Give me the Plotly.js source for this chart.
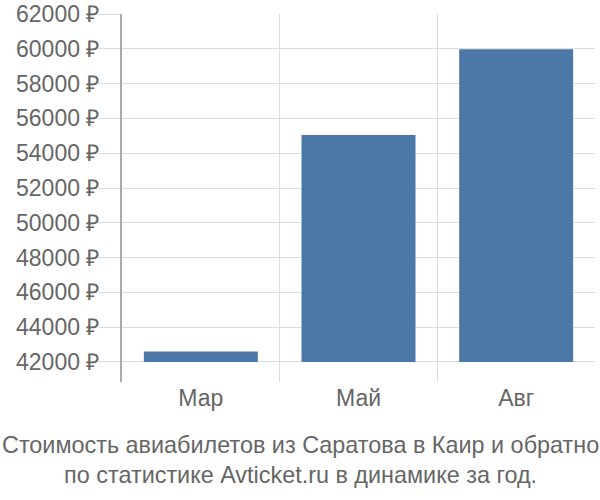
<!DOCTYPE html>
<html>
<head>
<meta charset="utf-8">
<script src="https://cdn.plot.ly/plotly-3.0.1.min.js"></script>
<style>
  body { margin: 0; padding: 0; background: #fff; }
  #chart { width: 600px; height: 500px; }
</style>
</head>
<body>
<div id="chart"></div>
<script>
var months = ['Мар', 'Май', 'Авг'];
var prices = [42600, 55050, 59980];
var baseLine = 42000;
var chartTitle = 'Стоимость авиабилетов из Саратова в Каир и обратно<br>по статистике Avticket.ru в динамике за год.';

function drawPrices(divId) {
  var trace1 = {
    type: 'bar',
    x: months,
    y: prices.map(function (p) { return p - baseLine; }),
    base: baseLine,
    hoverinfo: 'none',
    marker: {
      color: '#4c78a8'
    }
  };

  var layout = {
    width: 600,
    height: 500,
    font: {
      family: 'Liberation Sans, Arial, sans-serif',
      color: '#666',
      size: 23
    },
    annotations: [{
      text: chartTitle,
      xref: 'paper',
      yref: 'paper',
      x: (300 - 122) / 473,
      y: -0.212,
      xanchor: 'center',
      yanchor: 'middle',
      showarrow: false,
      font: { size: 23.4, color: '#666' }
    }],
    margin: {
      l: 122,
      r: 5,
      t: 14,
      b: 118
    },
    bargap: 0.277,
    showlegend: false,
    plot_bgcolor: '#fff',
    paper_bgcolor: '#fff',
    xaxis: {
      type: 'category',
      tickson: 'boundaries',
      showgrid: true,
      gridcolor: '#ddd',
      gridwidth: 1,
      ticks: '',
      showline: false,
      zeroline: false,
      tickfont: { size: 23, color: '#666' }
    },
    yaxis: {
      range: [40850, 62000],
      tick0: 42000,
      dtick: 2000,
      tickformat: 'd',
      ticksuffix: ' ₽',
      ticks: 'outside',
      ticklen: 22,
      tickcolor: '#ddd',
      ticklabelstandoff: -6,
      showgrid: true,
      gridcolor: '#ddd',
      gridwidth: 1,
      showline: true,
      linecolor: '#aaa',
      linewidth: 2,
      zeroline: false,
      tickfont: { size: 23, color: '#666' }
    }
  };

  Plotly.newPlot(divId, [trace1], layout, {displayModeBar: false, staticPlot: true});
}

drawPrices('chart');
</script>
</body>
</html>
